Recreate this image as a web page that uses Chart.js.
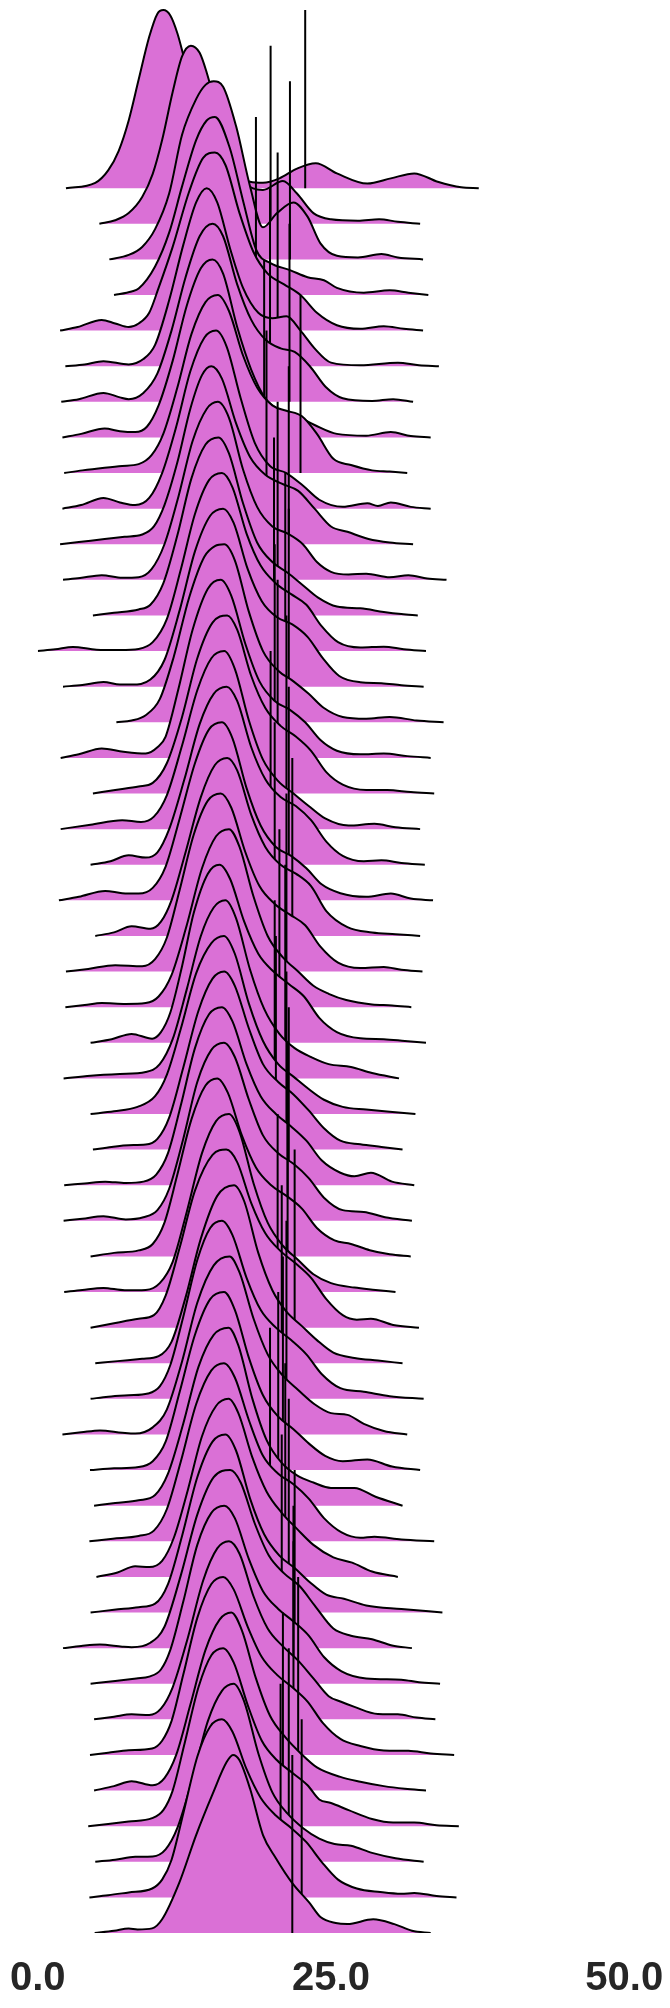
<!DOCTYPE html>
<html>
<head>
<meta charset="utf-8">
<script src="https://cdn.jsdelivr.net/npm/chart.js@4/dist/chart.umd.min.js"></script>
<style>
  html, body { margin: 0; padding: 0; background: #fff; }
  #wrap { width: 670px; height: 2008px; position: relative; }
</style>
</head>
<body>
<div id="wrap"><canvas id="ridgeChart"></canvas></div>
<script>
// x tick positions
const xTickValues = [0, 25, 50];

// vertical marker per row (top row first)
const markerValues = [
    22.8, 19.85, 21.5, 18.6, 20.45, 19.8, 21.46, 19.3, 22.4, 19.5,
    21.4, 20.45, 20.14, 21.1, 21.4, 20.2, 20.45, 21.2, 19.85, 21.4,
    20.2, 21.7, 21.2, 20.6, 21.1, 20.2, 20.3, 21.2, 21.4, 21.3,
    21.3, 20.45, 21.9, 20.8, 21.2, 20.9, 20.5, 19.8, 21.1, 21.4,
    20.8, 21.9, 21.8, 21.8, 22.2, 20.9, 21.4, 20.7, 22.5, 21.7
];

// density outline per row as [x, relative height] (top row first)
const densityRows = [
    [[2.4,0],[4.9,0.03],[6.0,0.1],[6.9,0.21],[7.75,0.38],[8.6,0.61],[9.5,0.85],[10.2,0.98],[10.7,1],[11.3,0.97],[11.9,0.87],[12.6,0.7],[13.5,0.5],[14.6,0.3],[15.8,0.15],[16.9,0.07],[18.1,0.036],[19.2,0.03],[20.6,0.055],[22.1,0.11],[23.7,0.14],[25.5,0.083],[28.1,0.026],[30.1,0.055],[32.1,0.083],[34.1,0.036],[36.1,0.005],[37.6,0]],
    [[5.25,0],[6.6,0.02],[7.75,0.06],[8.9,0.15],[9.8,0.28],[10.6,0.47],[11.5,0.74],[12.3,0.94],[13.05,1],[13.8,0.96],[14.4,0.85],[15.2,0.66],[16.3,0.45],[17.5,0.25],[19.2,0.19],[20.9,0.24],[22.1,0.17],[23.5,0.06],[25.0,0.025],[27.3,0.017],[29.1,0.026],[30.7,0.011],[32.6,0]],
    [[6.1,0],[7.75,0.025],[8.9,0.07],[10.0,0.17],[11.2,0.37],[12.3,0.7],[13.5,0.9],[14.3,0.98],[15.0,1],[15.8,0.97],[16.9,0.75],[18.1,0.41],[19.2,0.18],[20.4,0.26],[21.8,0.32],[23.0,0.24],[24.1,0.09],[25.5,0.02],[27.3,0.011],[29.3,0.03],[30.7,0.011],[32.85,0]],
    [[6.5,0],[8.0,0.02],[8.6,0.036],[10.0,0.16],[11.2,0.35],[12.3,0.61],[13.5,0.87],[14.4,0.98],[15.1,1],[16.35,0.83],[17.5,0.53],[18.65,0.25],[19.8,0.18],[21.5,0.14],[23.0,0.1],[24.4,0.083],[25.5,0.04],[27.8,0.013],[30.0,0.026],[31.6,0.013],[33.3,0]],
    [[1.9,0],[3.4,0.02],[5.45,0.06],[6.6,0.04],[7.75,0.02],[8.6,0.04],[9.5,0.1],[10.3,0.24],[11.5,0.47],[12.9,0.78],[14.1,0.97],[15.1,1],[16.0,0.93],[17.2,0.66],[18.4,0.44],[19.6,0.32],[21.0,0.26],[22.4,0.2],[23.8,0.1],[25.5,0.03],[27.5,0.01],[29.5,0.025],[31.2,0.01],[32.85,0]],
    [[2.35,0],[4.0,0.01],[5.6,0.028],[7.75,0.01],[9.0,0.04],[10.0,0.12],[11.2,0.37],[12.4,0.68],[13.5,0.92],[14.4,1],[15.3,0.92],[16.4,0.66],[17.5,0.44],[18.8,0.3],[20.0,0.27],[21.2,0.28],[22.4,0.2],[23.6,0.1],[25.0,0.02],[27.5,0.005],[30.7,0.02],[32.5,0.005],[34.2,0]],
    [[2.0,0],[3.5,0.015],[5.6,0.05],[7.0,0.025],[7.75,0.015],[9.0,0.05],[10.2,0.16],[11.4,0.4],[12.6,0.7],[13.8,0.93],[14.9,1],[15.8,0.93],[17.0,0.66],[18.2,0.46],[19.4,0.35],[20.7,0.3],[21.9,0.28],[23.2,0.2],[24.6,0.08],[26.0,0.02],[28.5,0.005],[30.3,0.015],[32.0,0]],
    [[2.1,0],[3.7,0.02],[5.7,0.05],[7.0,0.035],[8.3,0.03],[9.3,0.06],[10.3,0.18],[11.5,0.43],[12.7,0.74],[13.9,0.95],[14.9,1],[15.8,0.92],[17.0,0.62],[18.2,0.38],[19.4,0.22],[20.7,0.15],[22.1,0.12],[23.6,0.07],[25.5,0.02],[28.0,0.01],[30.1,0.03],[31.8,0.008],[33.5,0]],
    [[2.25,0],[3.8,0.015],[5.7,0.03],[7.2,0.04],[8.6,0.05],[9.7,0.1],[10.7,0.22],[11.9,0.48],[13.1,0.78],[14.3,0.96],[15.35,1],[16.3,0.91],[17.5,0.66],[18.7,0.48],[20.0,0.38],[21.2,0.35],[22.5,0.32],[23.8,0.22],[25.2,0.08],[26.7,0.045],[28.5,0.015],[30.0,0.008],[31.5,0]],
    [[2.1,0],[3.7,0.02],[5.6,0.06],[7.0,0.035],[8.3,0.02],[9.5,0.06],[10.6,0.2],[11.8,0.46],[13.0,0.77],[14.2,0.96],[15.2,1],[16.1,0.91],[17.3,0.62],[18.5,0.37],[19.8,0.24],[21.2,0.2],[22.6,0.13],[24.0,0.05],[26.0,0.01],[28.1,0.03],[29.0,0.015],[30.1,0.035],[31.8,0.01],[33.5,0]],
    [[1.9,0],[3.5,0.012],[5.7,0.03],[7.4,0.042],[8.9,0.055],[9.9,0.1],[10.8,0.22],[11.9,0.46],[13.0,0.76],[14.0,0.95],[14.8,1],[15.7,0.93],[16.9,0.68],[18.1,0.49],[19.4,0.39],[20.8,0.34],[22.2,0.3],[23.6,0.2],[25.0,0.1],[26.4,0.07],[28.2,0.03],[30.0,0.01],[32.0,0]],
    [[2.15,0],[3.6,0.01],[5.45,0.026],[7.2,0.012],[8.6,0.015],[9.7,0.06],[10.8,0.2],[12.0,0.47],[13.2,0.78],[14.4,0.96],[15.35,1],[16.3,0.91],[17.5,0.62],[18.7,0.41],[20.0,0.3],[21.3,0.26],[22.6,0.2],[23.8,0.1],[25.0,0.045],[26.5,0.03],[28.0,0.035],[30.0,0.015],[31.6,0.026],[33.2,0.008],[34.85,0]],
    [[4.7,0],[6.5,0.015],[8.6,0.034],[9.6,0.06],[10.7,0.18],[11.9,0.45],[13.1,0.77],[14.3,0.96],[15.4,1],[16.3,0.91],[17.5,0.63],[18.7,0.41],[20.0,0.3],[21.3,0.24],[22.6,0.17],[23.9,0.1],[25.5,0.05],[27.5,0.04],[29.5,0.02],[31.0,0.008],[32.4,0]],
    [[0.0,0],[1.5,0.01],[3.0,0.023],[5.0,0.008],[7.0,0.006],[8.6,0.012],[9.8,0.05],[11.0,0.18],[12.2,0.46],[13.4,0.77],[14.6,0.96],[15.7,1],[16.6,0.92],[17.8,0.66],[19.0,0.48],[20.3,0.38],[21.6,0.32],[22.9,0.26],[24.2,0.14],[25.6,0.05],[27.5,0.02],[29.5,0.025],[31.2,0.01],[33.1,0]],
    [[2.15,0],[3.8,0.01],[5.6,0.026],[7.0,0.012],[8.0,0.012],[9.6,0.04],[10.8,0.15],[12.1,0.43],[13.4,0.76],[14.7,0.96],[15.8,1],[16.7,0.92],[17.9,0.66],[19.1,0.48],[20.4,0.39],[21.7,0.35],[23.0,0.28],[24.3,0.16],[25.7,0.06],[27.5,0.025],[29.3,0.02],[31.0,0.008],[32.9,0]],
    [[6.7,0],[8.0,0.01],[9.2,0.04],[10.4,0.13],[11.6,0.37],[12.9,0.7],[14.2,0.93],[15.1,0.99],[15.9,1],[16.8,0.91],[18.0,0.62],[19.2,0.4],[20.5,0.29],[21.8,0.23],[23.1,0.16],[24.4,0.08],[26.0,0.03],[28.0,0.02],[30.0,0.03],[32.3,0.01],[34.6,0]],
    [[1.95,0],[3.5,0.02],[5.45,0.053],[7.3,0.035],[9.2,0.025],[10.2,0.06],[10.9,0.12],[12.0,0.39],[13.2,0.72],[14.5,0.95],[15.6,1],[16.5,0.91],[17.7,0.64],[18.9,0.43],[20.2,0.32],[21.5,0.27],[22.8,0.2],[24.1,0.1],[25.5,0.04],[27.5,0.02],[29.5,0.025],[31.5,0.01],[33.5,0]],
    [[4.7,0],[6.6,0.02],[8.6,0.04],[9.8,0.06],[11.0,0.17],[12.3,0.43],[13.6,0.76],[14.9,0.96],[16.15,1],[17.0,0.92],[18.2,0.66],[19.4,0.48],[20.7,0.38],[22.0,0.32],[23.3,0.24],[24.6,0.12],[26.0,0.05],[28.0,0.02],[29.8,0.02],[31.8,0.008],[33.8,0]],
    [[1.95,0],[4.5,0.025],[7.2,0.05],[8.8,0.04],[9.9,0.07],[11.0,0.19],[12.3,0.47],[13.6,0.78],[14.8,0.96],[15.9,1],[16.8,0.9],[18.0,0.61],[19.2,0.39],[20.5,0.27],[21.8,0.2],[23.1,0.13],[24.5,0.06],[26.5,0.02],[28.7,0.03],[30.5,0.01],[32.6,0]],
    [[4.5,0],[6.2,0.02],[7.75,0.053],[9.2,0.04],[10.2,0.07],[11.2,0.2],[12.5,0.48],[13.8,0.79],[15.0,0.96],[16.1,1],[17.0,0.92],[18.2,0.66],[19.4,0.48],[20.7,0.38],[22.0,0.33],[23.3,0.25],[24.6,0.13],[26.0,0.05],[27.8,0.02],[29.3,0.025],[31.0,0.01],[33.0,0]],
    [[1.8,0],[3.5,0.02],[5.75,0.053],[7.2,0.04],[8.6,0.038],[9.8,0.07],[10.9,0.19],[12.1,0.46],[13.4,0.77],[14.6,0.96],[15.7,1],[16.6,0.91],[17.8,0.63],[19.0,0.42],[20.3,0.3],[21.6,0.25],[22.9,0.18],[24.2,0.09],[25.8,0.04],[28.0,0.02],[30.1,0.038],[31.8,0.01],[33.7,0]],
    [[4.9,0],[6.5,0.02],[8.0,0.055],[9.6,0.04],[10.5,0.08],[11.4,0.2],[12.6,0.47],[13.9,0.78],[15.1,0.96],[16.15,1],[17.0,0.93],[18.2,0.68],[19.4,0.5],[20.7,0.4],[22.0,0.35],[23.3,0.28],[24.6,0.14],[26.4,0.05],[28.5,0.02],[30.5,0.01],[32.6,0]],
    [[2.4,0],[4.3,0.015],[6.6,0.036],[8.9,0.03],[10.0,0.07],[11.0,0.19],[12.1,0.46],[13.3,0.77],[14.5,0.96],[15.6,1],[16.5,0.92],[17.7,0.67],[18.9,0.48],[20.2,0.38],[21.5,0.32],[22.8,0.26],[24.1,0.14],[25.6,0.05],[27.5,0.02],[29.5,0.026],[31.0,0.01],[32.8,0]],
    [[2.35,0],[4.0,0.012],[5.45,0.023],[7.5,0.018],[9.2,0.023],[10.3,0.06],[11.4,0.18],[12.7,0.46],[14.0,0.78],[15.2,0.96],[16.3,1],[17.2,0.9],[18.4,0.62],[19.6,0.4],[20.9,0.28],[22.2,0.2],[23.5,0.12],[24.8,0.075],[26.3,0.04],[28.5,0.015],[30.2,0.01],[31.85,0]],
    [[4.5,0],[6.3,0.02],[8.0,0.05],[9.75,0.023],[10.5,0.06],[11.3,0.17],[12.3,0.43],[13.3,0.73],[14.5,0.95],[15.5,1],[16.4,0.92],[17.6,0.68],[18.8,0.5],[20.1,0.4],[21.4,0.33],[22.7,0.26],[24.0,0.14],[25.5,0.06],[27.5,0.025],[29.5,0.02],[31.3,0.01],[33.1,0]],
    [[2.2,0],[4.5,0.015],[7.0,0.025],[9.2,0.036],[10.4,0.08],[11.5,0.22],[12.7,0.5],[13.9,0.8],[15.0,0.96],[16.0,1],[16.9,0.9],[18.1,0.61],[19.3,0.39],[20.6,0.25],[21.9,0.17],[23.3,0.12],[24.8,0.08],[26.7,0.064],[28.5,0.03],[30.8,0]],
    [[4.5,0],[6.5,0.015],[8.5,0.04],[10.0,0.1],[11.0,0.22],[12.2,0.48],[13.5,0.79],[14.8,0.96],[15.87,1],[16.8,0.9],[18.0,0.62],[19.2,0.41],[20.5,0.28],[21.8,0.21],[23.1,0.14],[24.4,0.08],[26.0,0.04],[28.0,0.025],[30.0,0.012],[32.2,0]],
    [[4.7,0],[6.3,0.015],[7.75,0.025],[9.2,0.028],[10.2,0.06],[11.2,0.18],[12.4,0.46],[13.7,0.78],[14.9,0.96],[15.9,1],[16.8,0.92],[18.0,0.68],[19.2,0.48],[20.5,0.38],[21.8,0.31],[23.1,0.22],[24.4,0.12],[25.8,0.05],[27.5,0.03],[29.3,0.015],[31.1,0]],
    [[2.25,0],[4.0,0.01],[5.75,0.02],[7.5,0.012],[9.0,0.02],[10.1,0.06],[11.1,0.18],[12.2,0.45],[13.4,0.77],[14.6,0.96],[15.7,1],[16.6,0.92],[17.8,0.68],[19.0,0.5],[20.3,0.4],[21.6,0.33],[22.9,0.25],[24.2,0.14],[25.8,0.07],[27.0,0.05],[28.4,0.07],[30.2,0.02],[32.1,0]],
    [[2.2,0],[3.8,0.012],[5.6,0.026],[7.5,0.008],[9.0,0.02],[10.2,0.06],[11.2,0.18],[12.4,0.46],[13.6,0.78],[14.8,0.96],[15.87,1],[16.8,0.92],[18.0,0.68],[19.2,0.48],[20.5,0.38],[21.8,0.32],[23.1,0.24],[24.4,0.13],[26.0,0.06],[27.8,0.05],[29.6,0.02],[31.9,0]],
    [[4.5,0],[6.5,0.02],[8.6,0.034],[9.8,0.07],[10.8,0.19],[11.9,0.46],[13.1,0.77],[14.3,0.96],[15.3,1],[16.2,0.92],[17.4,0.68],[18.6,0.5],[19.9,0.4],[21.2,0.34],[22.5,0.27],[23.8,0.16],[25.3,0.09],[26.7,0.07],[28.3,0.035],[30.0,0.012],[31.8,0]],
    [[2.25,0],[3.8,0.012],[5.6,0.023],[7.4,0.01],[9.2,0.012],[10.4,0.05],[11.5,0.17],[12.7,0.45],[14.0,0.78],[15.2,0.96],[16.3,1],[17.2,0.9],[18.4,0.61],[19.6,0.39],[20.9,0.26],[22.2,0.18],[23.5,0.1],[25.0,0.05],[27.0,0.025],[28.8,0.012],[30.5,0]],
    [[4.5,0],[6.5,0.025],[8.6,0.05],[9.9,0.07],[10.9,0.18],[12.1,0.45],[13.4,0.77],[14.9,0.97],[16.07,1],[17.0,0.93],[18.2,0.7],[19.4,0.53],[20.7,0.43],[22.0,0.36],[23.3,0.28],[24.6,0.16],[26.0,0.07],[27.2,0.045],[28.4,0.05],[30.3,0.015],[32.5,0]],
    [[4.9,0],[6.8,0.012],[8.9,0.025],[10.3,0.04],[11.4,0.12],[12.6,0.37],[13.9,0.7],[15.3,0.94],[16.73,1],[17.6,0.91],[18.8,0.62],[20.0,0.41],[21.2,0.29],[22.5,0.21],[23.8,0.13],[25.2,0.06],[27.0,0.03],[29.0,0.015],[31.1,0]],
    [[4.5,0],[6.0,0.012],[7.75,0.02],[9.4,0.03],[10.4,0.07],[11.3,0.19],[12.4,0.46],[13.6,0.78],[14.7,0.96],[15.7,1],[16.6,0.92],[17.8,0.68],[19.0,0.5],[20.3,0.4],[21.6,0.33],[22.9,0.25],[24.2,0.14],[25.8,0.06],[27.8,0.04],[30.0,0.015],[32.9,0]],
    [[2.1,0],[3.7,0.012],[5.3,0.023],[7.2,0.01],[8.3,0.005],[9.8,0.04],[11.0,0.14],[12.3,0.41],[13.6,0.74],[15.0,0.95],[16.35,1],[17.2,0.91],[18.4,0.65],[19.6,0.45],[20.9,0.33],[22.2,0.25],[23.6,0.17],[25.0,0.12],[26.4,0.11],[27.8,0.06],[29.5,0.02],[31.5,0]],
    [[4.45,0],[6.5,0.01],[8.6,0.017],[9.8,0.05],[10.9,0.16],[12.1,0.44],[13.4,0.76],[14.7,0.96],[15.87,1],[16.8,0.9],[18.0,0.63],[19.2,0.42],[20.5,0.3],[21.8,0.23],[23.1,0.15],[24.5,0.08],[26.0,0.05],[28.1,0.06],[30.2,0.02],[32.6,0]],
    [[4.8,0],[6.6,0.015],[8.6,0.03],[10.0,0.06],[11.1,0.18],[12.4,0.46],[13.7,0.78],[15.0,0.96],[16.27,1],[17.1,0.9],[18.3,0.6],[19.5,0.37],[20.8,0.24],[22.1,0.17],[23.5,0.13],[25.0,0.1],[27.0,0.1],[28.8,0.05],[31.1,0]],
    [[4.4,0],[6.4,0.015],[8.6,0.03],[9.9,0.06],[11.0,0.18],[12.2,0.45],[13.5,0.77],[14.8,0.96],[15.87,1],[16.8,0.92],[18.0,0.68],[19.2,0.48],[20.5,0.38],[21.8,0.32],[23.1,0.24],[24.4,0.13],[25.9,0.05],[27.5,0.02],[28.7,0.026],[31.0,0.01],[33.8,0]],
    [[5.0,0],[6.8,0.025],[8.3,0.06],[9.5,0.055],[10.6,0.09],[11.6,0.22],[12.8,0.49],[14.0,0.79],[15.2,0.96],[16.27,1],[17.1,0.92],[18.3,0.67],[19.5,0.48],[20.8,0.36],[22.1,0.27],[23.5,0.18],[25.2,0.11],[26.8,0.08],[28.5,0.03],[30.7,0]],
    [[4.5,0],[6.5,0.015],[8.6,0.03],[10.0,0.05],[11.1,0.16],[12.3,0.43],[13.6,0.76],[14.9,0.96],[16.0,1],[16.9,0.91],[18.1,0.64],[19.3,0.44],[20.6,0.32],[21.9,0.25],[23.2,0.17],[24.6,0.1],[26.1,0.077],[28.0,0.04],[31.0,0.02],[34.5,0]],
    [[2.15,0],[3.7,0.012],[5.3,0.02],[7.2,0.008],[8.0,0.005],[9.6,0.03],[10.8,0.12],[12.2,0.41],[13.6,0.75],[15.0,0.96],[16.4,1],[17.3,0.93],[18.5,0.7],[19.7,0.52],[21.0,0.42],[22.3,0.35],[23.6,0.24],[25.2,0.11],[26.7,0.07],[28.5,0.05],[30.2,0.015],[31.9,0]],
    [[4.5,0],[6.6,0.015],[8.4,0.03],[9.5,0.04],[10.5,0.08],[11.3,0.19],[12.4,0.46],[13.6,0.78],[14.8,0.96],[15.9,1],[16.8,0.93],[18.0,0.7],[19.2,0.52],[20.5,0.42],[21.8,0.35],[23.1,0.27],[24.4,0.15],[25.9,0.07],[28.0,0.03],[31.0,0.023],[32.5,0.008],[34.3,0]],
    [[4.8,0],[6.5,0.015],[8.0,0.028],[9.5,0.025],[10.5,0.06],[11.5,0.18],[12.8,0.46],[14.1,0.78],[15.3,0.96],[16.3,1],[17.2,0.93],[18.4,0.69],[19.6,0.51],[20.9,0.41],[22.2,0.33],[23.5,0.23],[24.8,0.13],[25.8,0.1],[27.0,0.07],[29.0,0.03],[30.7,0.028],[32.3,0.01],[33.9,0]],
    [[4.45,0],[6.0,0.012],[7.75,0.026],[9.75,0.036],[10.6,0.08],[11.4,0.19],[12.4,0.45],[13.6,0.77],[14.8,0.96],[15.8,1],[16.7,0.93],[17.9,0.72],[19.1,0.55],[20.4,0.45],[21.7,0.38],[23.0,0.3],[24.3,0.18],[25.8,0.09],[27.5,0.05],[29.5,0.025],[31.6,0.023],[33.5,0.008],[35.5,0]],
    [[4.8,0],[6.5,0.025],[8.0,0.053],[9.8,0.03],[10.8,0.07],[11.8,0.2],[13.0,0.48],[14.3,0.79],[15.5,0.96],[16.5,1],[17.4,0.9],[18.6,0.63],[19.8,0.42],[21.1,0.3],[22.4,0.21],[23.8,0.13],[25.8,0.077],[27.5,0.05],[29.5,0.025],[31.3,0.01],[33.1,0]],
    [[4.3,0],[6.0,0.012],[7.75,0.026],[9.75,0.045],[10.7,0.09],[11.5,0.2],[12.5,0.46],[13.7,0.78],[14.8,0.96],[15.8,1],[16.7,0.92],[17.9,0.68],[19.1,0.48],[20.4,0.37],[21.7,0.3],[23.0,0.23],[24.0,0.15],[25.0,0.13],[26.5,0.09],[28.5,0.04],[30.3,0.02],[32.1,0.02],[34.0,0.005],[35.9,0]],
    [[4.9,0],[6.6,0.012],[8.3,0.028],[9.8,0.03],[10.9,0.07],[11.9,0.19],[13.2,0.47],[14.5,0.79],[15.7,0.96],[16.7,1],[17.6,0.9],[18.8,0.61],[20.0,0.39],[21.3,0.27],[22.6,0.19],[24.0,0.13],[25.3,0.1],[26.7,0.09],[28.5,0.05],[30.5,0.02],[32.9,0]],
    [[4.4,0],[6.0,0.012],[7.75,0.028],[9.75,0.05],[10.6,0.1],[11.4,0.21],[12.4,0.47],[13.6,0.79],[14.7,0.96],[15.7,1],[16.6,0.93],[17.8,0.72],[19.0,0.56],[20.3,0.46],[21.6,0.39],[22.9,0.31],[24.2,0.2],[25.6,0.1],[27.2,0.05],[29.2,0.03],[31.0,0.02],[32.1,0.025],[34.0,0.008],[35.7,0]],
    [[4.85,0],[6.5,0.012],[7.75,0.025],[8.5,0.02],[9.75,0.026],[10.6,0.077],[12.05,0.28],[13.5,0.55],[14.9,0.78],[16.1,0.96],[16.64,1],[17.2,0.97],[18.1,0.81],[19.2,0.55],[20.3,0.42],[21.7,0.28],[23.15,0.17],[24.1,0.09],[25.4,0.056],[26.4,0.05],[28.6,0.077],[30.4,0.05],[31.9,0.013],[33.5,0]]
];

document.addEventListener('DOMContentLoaded', () => {
    const ctx = document.getElementById('ridgeChart').getContext('2d');

    const rowCount = densityRows.length;
    const peakRows = 5.0;   // ridge height measured in row spacings
    const fillColor = '#DA70D6';

    const datasets = [];
    densityRows.forEach((pts, i) => {
        const base = rowCount - 1 - i;
        const drawOrder = 2 * base;  // lower rows sit on top
        datasets.push({
            data: pts.map(p => ({ x: p[0], y: base + p[1] * peakRows })),
            borderColor: '#000',
            borderWidth: 2,
            backgroundColor: fillColor,
            fill: { value: base },
            cubicInterpolationMode: 'monotone',
            pointRadius: 0,
            order: drawOrder + 1,
        });
        datasets.push({
            data: [
                { x: markerValues[i], y: base },
                { x: markerValues[i], y: base + peakRows }
            ],
            borderColor: '#000',
            borderWidth: 2,
            fill: false,
            tension: 0,
            pointRadius: 0,
            order: drawOrder,
        });
    });

    new Chart(ctx, {
        type: 'line',
        data: { datasets },
        options: {
            responsive: true,
            maintainAspectRatio: false,
            animation: false,
            layout: { padding: { left: 37.8, right: 45.8, top: 3, bottom: 9 } },
            plugins: {
                legend: { display: false },
                tooltip: { enabled: false },
            },
            scales: {
                x: {
                    type: 'linear',
                    min: 0,
                    max: 50,
                    grid: { display: false, drawTicks: true, tickLength: 26 },
                    border: { display: false },
                    afterBuildTicks: axis => {
                        axis.ticks = xTickValues.map(v => ({ value: v }));
                    },
                    ticks: {
                        autoSkip: false,
                        maxRotation: 0,
                        padding: 0,
                        color: '#262626',
                        font: { family: 'Liberation Sans', size: 40, weight: 'bold', lineHeight: 1 },
                        callback: value => Number(value).toFixed(1)
                    }
                },
                y: {
                    type: 'linear',
                    display: false,
                    min: 0,
                    max: 54.2
                }
            }
        }
    });
});
</script>
</body>
</html>
